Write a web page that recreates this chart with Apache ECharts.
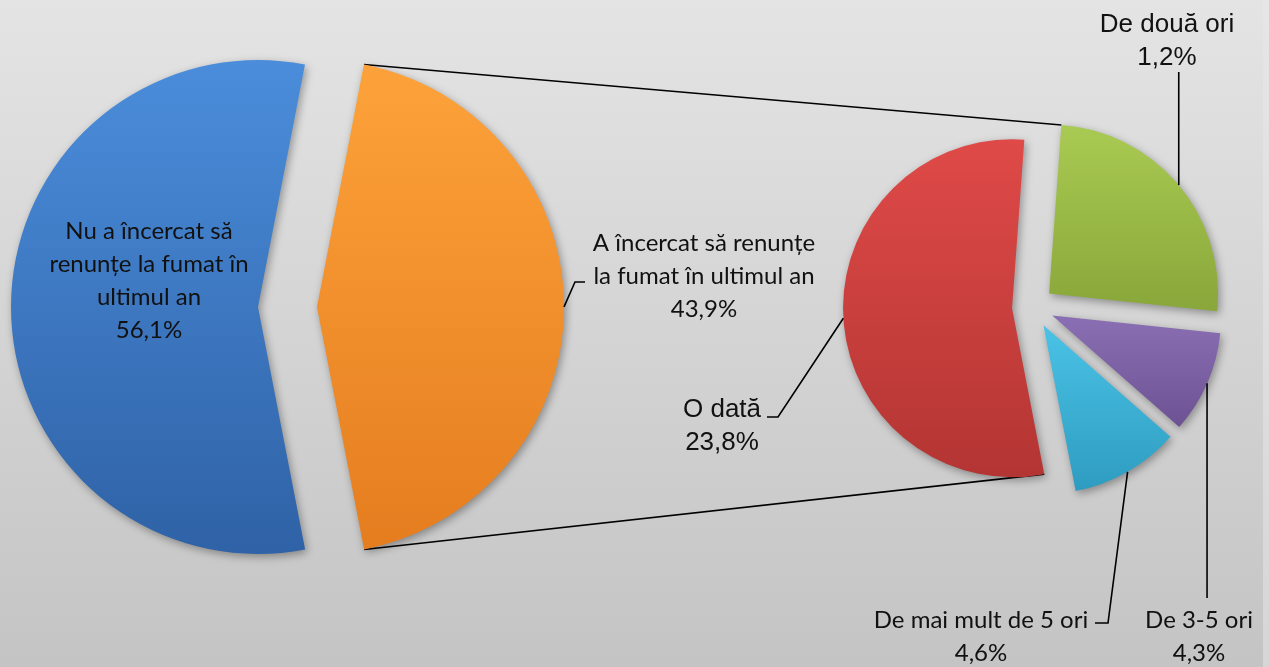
<!DOCTYPE html>
<html>
<head>
<meta charset="utf-8">
<script src="https://cdn.jsdelivr.net/npm/echarts@6/dist/echarts.min.js"></script>
<style>
  html, body { margin: 0; padding: 0; background: linear-gradient(#e6e6e6, #d6d6d6); }
  #chart { width: 1263px; height: 667px; }
</style>
</head>
<body>
<div id="chart"></div>
<script>
// main pie
var mainNames = ['Nu a încercat să\nrenunțe la fumat în\nultimul an', 'A încercat să renunțe\nla fumat în ultimul an'];
var mainValues = [56.1, 43.9];
var mainPercent = ['56,1%', '43,9%'];

// second pie (splits "A încercat să renunțe")
var subNames = ['O dată', 'De două ori', 'De 3-5 ori', 'De mai mult de 5 ori'];
var subValues = [23.8, 11.2, 4.3, 4.6];
var subPercent = ['23,8%', '1,2%', '4,3%', '4,6%'];

var calibri = 'Lato, "Noto Sans", sans-serif';
var arial = '"Liberation Sans", Arial, sans-serif';

var mainColors = [['#4b8ddb', '#2f62a6'], ['#fda23a', '#e57d1f']];
var subColors = [['#df4a48', '#b33533'], ['#a9ca52', '#89a73a'], ['#8b6fb4', '#6c5293'], ['#4ac3e6', '#2e9cc0']];

var mainCenter = [287.5, 307], mainR = 247, mainOff = 29.5;
var subCenter = [1033, 307], subR = 169, subOff = 21;
var startDeg = 281;

// label placement: centre of text block, font, leader bend points
var mainLabelCfg = [
  { x: 149, y: 281, font: calibri, leader: null },
  { x: 704, y: 276, font: calibri, leader: [[575, 282], [585, 282]] }
];
var subLabelCfg = [
  { x: 722, y: 426, font: arial, leader: [[778, 417], [767, 417]] },
  { x: 1167, y: 41, font: arial, vert: 72 },
  { x: 1199, y: 637, font: calibri, vert: 598 },
  { x: 981, y: 637, font: calibri, leader: [[1108, 623], [1095, 623]] }
];

function grad(c) {
  return new echarts.graphic.LinearGradient(0, 0, 0, 1, [
    { offset: 0, color: c[0] }, { offset: 1, color: c[1] }
  ]);
}

// point on the outer edge of an exploded slice ('start', 'end' or 'mid')
function sliceEdge(values, idx, which, center, r, off) {
  var total = values.reduce(function (a, b) { return a + b; }, 0);
  var a0 = startDeg;
  for (var i = 0; i < idx; i++) a0 -= values[i] / total * 360;
  var a1 = a0 - values[idx] / total * 360;
  var mid = (a0 + a1) / 2;
  var m = mid * Math.PI / 180;
  var cx = center[0] + off * Math.cos(m), cy = center[1] - off * Math.sin(m);
  var a = (which === 'start' ? a0 : which === 'end' ? a1 : mid) * Math.PI / 180;
  return [cx + r * Math.cos(a), cy - r * Math.sin(a)];
}

function makeData(names, values, colors) {
  return names.map(function (n, i) {
    return { name: n, value: values[i], selected: true, itemStyle: { color: grad(colors[i]) } };
  });
}

function labelGraphics(names, values, percent, cfg, center, r, off) {
  var out = [];
  names.forEach(function (n, i) {
    var c = cfg[i];
    out.push({
      type: 'text', z: 10, x: c.x, y: c.y,
      style: {
        text: n + '\n' + percent[i],
        font: (c.font === arial ? 26 : 24) + 'px ' + c.font,
        fill: '#111', align: 'center', verticalAlign: 'middle', lineHeight: 33
      }
    });
    if (c.leader || c.vert != null) {
      var s = sliceEdge(values, i, 'mid', center, r, off);
      var pts = c.vert != null ? [s, [s[0], c.vert]] : [s].concat(c.leader);
      out.push({ type: 'polyline', z: 10, shape: { points: pts }, style: { stroke: '#000', lineWidth: 1.6, fill: null } });
    }
  });
  return out;
}

var topA = sliceEdge(mainValues, 1, 'start', mainCenter, mainR, mainOff);
var topB = sliceEdge(subValues, 1, 'start', subCenter, subR, subOff);
var botA = sliceEdge(mainValues, 1, 'end', mainCenter, mainR, mainOff);
var botB = sliceEdge(subValues, 0, 'start', subCenter, subR, subOff);

var common = {
  type: 'pie',
  selectedMode: 'multiple',
  startAngle: startDeg,
  clockwise: true,
  silent: true,
  animation: false,
  emphasis: { disabled: true },
  select: { itemStyle: { borderWidth: 0 } },
  itemStyle: {
    shadowBlur: 8,
    shadowColor: 'rgba(0,0,0,0.35)',
    shadowOffsetX: 2,
    shadowOffsetY: 3
  },
  label: { show: false },
  labelLine: { show: false }
};

var graphics = [
  { type: 'polyline', z: 0, shape: { points: [topA, topB] }, style: { stroke: '#000', lineWidth: 1.6, fill: null } },
  { type: 'polyline', z: 0, shape: { points: [botA, botB] }, style: { stroke: '#000', lineWidth: 1.6, fill: null } }
].concat(
  labelGraphics(mainNames, mainValues, mainPercent, mainLabelCfg, mainCenter, mainR, mainOff),
  labelGraphics(subNames, subValues, subPercent, subLabelCfg, subCenter, subR, subOff)
);

var chart = echarts.init(document.getElementById('chart'));
chart.setOption({
  backgroundColor: new echarts.graphic.LinearGradient(0, 0, 0, 1, [
    { offset: 0, color: '#e4e4e4' }, { offset: 1, color: '#c4c4c4' }
  ]),
  animation: false,
  graphic: graphics,
  series: [
    echarts.util.merge({
      center: mainCenter, radius: mainR, selectedOffset: mainOff,
      data: makeData(mainNames, mainValues, mainColors)
    }, common),
    echarts.util.merge({
      center: subCenter, radius: subR, selectedOffset: subOff,
      data: makeData(subNames, subValues, subColors)
    }, common)
  ]
});
</script>
</body>
</html>
